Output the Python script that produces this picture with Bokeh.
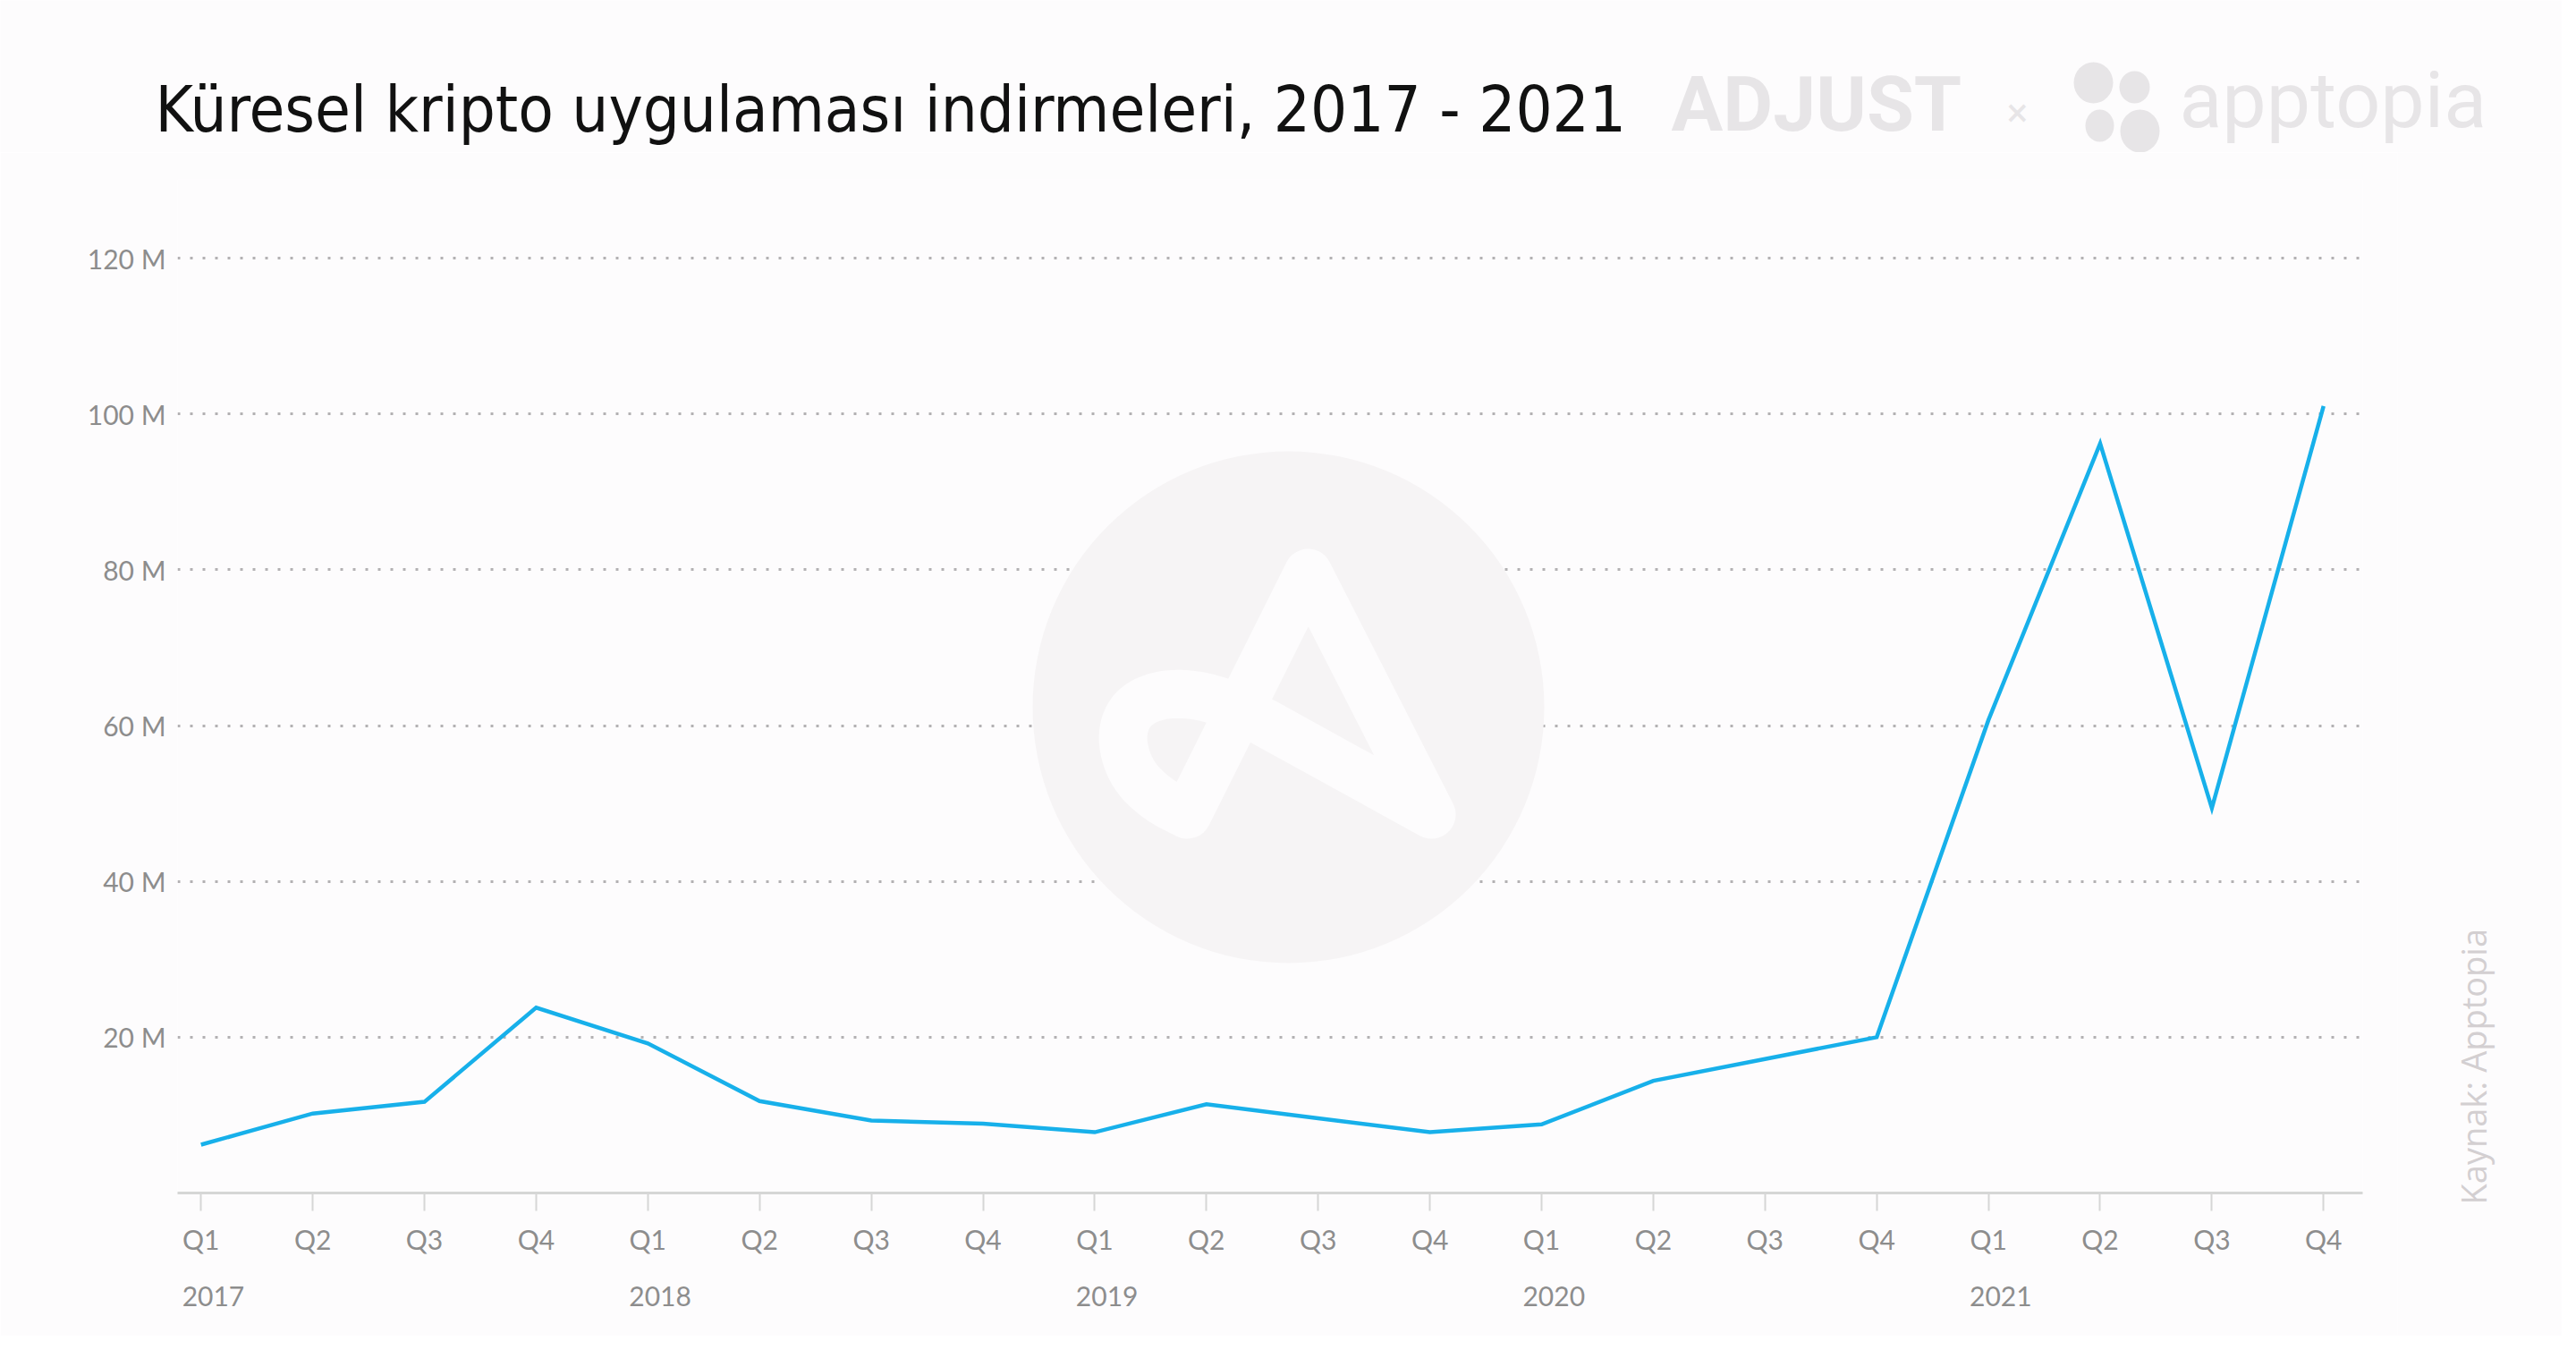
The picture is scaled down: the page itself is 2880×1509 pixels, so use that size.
import numpy as np
from bokeh.plotting import figure
from bokeh.layouts import column, row
from bokeh.models import FixedTicker, Label, Range1d, LinearAxis
from bokeh.embed import file_html
from bokeh.resources import INLINE

# ---------------- data ----------------
title_text = "Küresel kripto uygulaması indirmeleri, 2017 - 2021"
years = ["2017", "2018", "2019", "2020", "2021"]
quarters = ["Q1", "Q2", "Q3", "Q4"]
downloads_m = [6.2, 10.2, 11.7, 23.8,
               19.2, 11.8, 9.3, 8.9,
               7.8, 11.4, 9.6, 7.8,
               8.8, 14.4, 17.2, 20.0,
               60.7, 96.2, 49.4, 101.0]
ytick_values = [20, 40, 60, 80, 100, 120]
ytick_labels = ["20 M", "40 M", "60 M", "80 M", "100 M", "120 M"]
source_text = "Kaynak: Apptopia"
brand_left = "ADJUST"
brand_right = "apptopia"

# ---------------- layout ----------------
W, H = 2864, 1493
HDR_H = 170                      # header strip (title + logos)
MAIN_H = H - HDR_H
SIDE_W = 184
MAIN_W = W - SIDE_W
FRAME_L, FRAME_R, FRAME_T, FRAME_B = 198, 2641, 200, 1333
BL, BR = FRAME_L, MAIN_W - FRAME_R
BT, BB = FRAME_T - HDR_H, H - FRAME_B
frame_w = MAIN_W - BL - BR
frame_h = MAIN_H - BT - BB
x_start, x_end = -0.21, 19.35
y_start = 0.0
px_per_m = (1333 - 288) / 120.0
y_end = frame_h / px_per_m
px_per_x = frame_w / (x_end - x_start)
YEAR_LABEL_SHIFT = 0.11          # year labels sit slightly right of the Q1 tick
BG = "#fdfcfd"
LOGO = "#e7e5e7"


def dx(page_x):
    return x_start + (page_x - FRAME_L) / px_per_x


def dy(page_y):
    return y_start + (FRAME_B - page_y) / px_per_m


def blank(width, height):
    f = figure(width=width, height=height, output_backend="svg",
               toolbar_location=None, x_axis_location=None, y_axis_location=None,
               x_range=Range1d(0, width), y_range=Range1d(0, height), min_border=0)
    f.background_fill_color = BG
    f.border_fill_color = BG
    f.outline_line_color = None
    f.grid.grid_line_color = None
    f.frame_align = False
    return f


def chaikin(pts, n=3):
    pts = np.asarray(pts, dtype=float)
    for _ in range(n):
        q = 0.75 * pts[:-1] + 0.25 * pts[1:]
        r = 0.25 * pts[:-1] + 0.75 * pts[1:]
        new = np.empty((len(q) * 2, 2))
        new[0::2], new[1::2] = q, r
        pts = np.vstack([pts[:1], new, pts[-1:]])
    return pts


# ---------------- header ----------------
hdr = blank(W, HDR_H)
hx = lambda px: px
hy = lambda py: HDR_H - py
hdr.add_layout(Label(x=hx(173), y=hy(121), text=title_text, text_align="left",
                     text_baseline="middle", text_font="DejaVu Sans Condensed",
                     text_font_size="72px", text_color="#111111"))
hdr.add_layout(Label(x=hx(1868), y=hy(116), text=brand_left, text_align="left",
                     text_baseline="middle", text_font="Roboto",
                     text_font_style="bold", text_font_size="86px", text_color=LOGO))
hdr.add_layout(Label(x=hx(2255), y=hy(125), text="×", text_align="center",
                     text_baseline="middle", text_font="Roboto",
                     text_font_size="44px", text_color=LOGO))
petals = [(2340, 92, 44, 46), (2386, 97, 34, 36), (2347, 140, 32, 36), (2392, 146, 44, 48)]
hdr.ellipse([hx(c[0]) for c in petals], [hy(c[1]) for c in petals],
            width=[c[2] for c in petals], height=[c[3] for c in petals],
            fill_color=LOGO, line_color=None)
hdr.add_layout(Label(x=hx(2436), y=hy(111), text=brand_right, text_align="left",
                     text_baseline="middle", text_font="Roboto",
                     text_font_size="88px", text_color=LOGO))

# ---------------- main chart ----------------
x_idx = list(range(len(downloads_m)))
x_labels = {i: quarters[i % 4] for i in x_idx}

p = figure(width=MAIN_W, height=MAIN_H, output_backend="svg", toolbar_location=None,
           x_range=Range1d(x_start, x_end), y_range=Range1d(y_start, y_end),
           min_border_left=BL, min_border_right=BR, min_border_top=BT,
           min_border_bottom=BB)
p.background_fill_color = BG
p.border_fill_color = BG
p.outline_line_color = None

# watermark circle + stylised A
p.scatter([dx(1440)], [dy(790)], size=572, marker="circle",
          fill_color="#f6f4f5", line_color=None)
loop_px = chaikin([(1413, 807), (1360, 780), (1307, 773), (1267, 787),
                   (1252, 820), (1263, 863), (1293, 893), (1327, 910)])
a_path_px = np.vstack([[(1600, 910)], loop_px, [(1462, 640), (1600, 910)]])
p.line([dx(a[0]) for a in a_path_px], [dy(a[1]) for a in a_path_px],
       line_width=54, line_color=BG, line_join="round", line_cap="round")

# x axis (quarters)
p.xaxis.ticker = FixedTicker(ticks=x_idx)
p.xaxis.major_label_overrides = x_labels
p.xaxis.axis_line_color = "#d6d6d6"
p.xaxis.axis_line_width = 3
p.xaxis.major_tick_line_color = "#d6d6d6"
p.xaxis.major_tick_line_width = 2
p.xaxis.major_tick_out = 20
p.xaxis.major_tick_in = 0
p.xaxis.minor_tick_line_color = None
p.xaxis.major_label_standoff = 13
p.xaxis.major_label_text_font = "Lato"
p.xaxis.major_label_text_font_size = "30px"
p.xaxis.major_label_text_color = "#8d8d8d"

# x axis (years)
year_pos = [i * 4 + YEAR_LABEL_SHIFT for i in range(len(years))]
year_axis = LinearAxis(ticker=FixedTicker(ticks=year_pos),
                       major_label_overrides=dict(zip(year_pos, years)))
year_axis.axis_line_color = None
year_axis.major_tick_line_color = None
year_axis.minor_tick_line_color = None
year_axis.major_label_standoff = 26
year_axis.major_label_text_font = "Lato"
year_axis.major_label_text_font_size = "30px"
year_axis.major_label_text_color = "#8d8d8d"
p.add_layout(year_axis, "below")

# y axis
p.yaxis.ticker = FixedTicker(ticks=ytick_values)
p.yaxis.major_label_overrides = dict(zip(ytick_values, ytick_labels))
p.yaxis.axis_line_color = None
p.yaxis.major_tick_line_color = None
p.yaxis.minor_tick_line_color = None
p.yaxis.major_label_standoff = 7
p.yaxis.major_label_text_font = "Lato"
p.yaxis.major_label_text_font_size = "30px"
p.yaxis.major_label_text_color = "#8d8d8d"

p.xgrid.grid_line_color = None
p.ygrid.ticker = FixedTicker(ticks=ytick_values)
p.ygrid.grid_line_color = "#b3b1b3"
p.ygrid.grid_line_width = 3
p.ygrid.grid_line_dash = "3 11"

# data line
p.line(x_idx, downloads_m, line_width=4.5, line_color="#17b0ea", line_join="miter")

# ---------------- side strip (source) ----------------
side = blank(SIDE_W, MAIN_H)
side.add_layout(Label(x=2764 - MAIN_W, y=MAIN_H - (1346 - HDR_H), text=source_text,
                      angle=np.pi / 2, text_align="left", text_baseline="middle",
                      text_font="Open Sans", text_font_size="38px",
                      text_color="#d3cfd1"))

layout = column(hdr, row(p, side, spacing=0), spacing=0)

open("out.html", "w").write(file_html(layout, INLINE))
